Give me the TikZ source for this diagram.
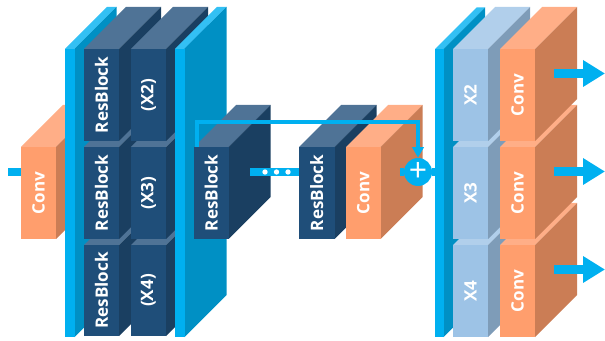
\documentclass[tikz,border=0pt]{standalone}
\usepackage{fontspec}
\setmainfont{Open Sans}
\usetikzlibrary{arrows.meta}
\definecolor{navyF}{HTML}{1F4E79}\definecolor{navyT}{HTML}{4F7396}\definecolor{navyS}{HTML}{1A3F61}
\definecolor{orgF}{HTML}{FF9E6D}\definecolor{orgT}{HTML}{FFAE87}\definecolor{orgS}{HTML}{CB7D55}
\definecolor{skyF}{HTML}{00B0F0}\definecolor{skyT}{HTML}{33C0F4}\definecolor{skyS}{HTML}{0090C4}
\definecolor{lblF}{HTML}{9DC3E6}\definecolor{lblT}{HTML}{B1CFEB}\definecolor{lblS}{HTML}{7E9CB8}
\tikzset{
  facelabel/.style={anchor=north west,inner sep=0pt,outer sep=0pt,text=white,font=\fontsize{12.8}{15}\selectfont\bfseries},
  stub/.style={draw=skyF,line width=6pt},
  skipline/.style={draw=skyF,line width=2.6pt,-{Triangle[width=8.5pt,length=8pt]}},
  outarrow/.style={draw=skyF,line width=6.8pt,-{Triangle[width=19pt,length=16.5pt]}},
  plusnode/.style={circle,fill=skyF,minimum size=21pt,inner sep=0pt,text=white,font=\fontsize{24}{24}\selectfont},
  dotmark/.style={fill=white}
}
\newcommand{\blk}[8]{%
  \fill[#7T] (#2,#3) -- ++(#6,-#6) -- ++(#4,0) -- ++(-#6,#6) -- cycle;
  \fill[#7S] (#2,#3) ++(#4,0) -- ++(#6,-#6) -- ++(0,#5) -- ++(-#6,#6) -- cycle;
  \node[facelabel,fill=#7F,minimum width=#4*0.75pt,minimum height=#5*0.75pt] (#1) at (#2,#3) {\rotatebox{90}{#8}};
}
\begin{document}
\begin{tikzpicture}[x=0.75pt,y=-0.75pt]
\useasboundingbox (0,0) rectangle (605,341);
% input conv
\coordinate (inL) at (8,172);
\blk{convA}{21}{147}{35}{92}{42}{org}{Conv}
\draw[stub] (inL) -- (inL -| convA.west);
% first panel
\blk{panelA}{65}{49}{9.5}{288}{42}{sky}{}
% ResBlock column
\blk{resC}{84}{245}{35}{91}{42}{navy}{ResBlock}
\blk{resB}{84}{147}{35}{92}{42}{navy}{ResBlock}
\blk{resA}{84}{49}{35}{92}{42}{navy}{ResBlock}
% repeat column
\blk{repC}{131}{245}{35}{91}{42}{navy}{(X4)}
\blk{repB}{131}{147}{35}{92}{42}{navy}{(X3)}
\blk{repA}{131}{49}{35}{92}{42}{navy}{(X2)}
% second panel
\blk{panelB}{175}{49}{9.5}{288}{42}{sky}{}
% middle
\blk{resD}{194}{147}{34.5}{92}{42}{navy}{ResBlock}
\blk{resE}{299}{147}{35.5}{92}{42}{navy}{ResBlock}
\blk{convB}{346}{147}{34.5}{92}{42}{org}{Conv}
\coordinate (dotsL) at (250,172);
\draw[stub] (dotsL) -- (dotsL -| resE.west);
\fill[dotmark] (265,172) circle (2pt) (276.5,172) circle (2pt) (288,172) circle (2pt);
% right panel and columns
\blk{panelC}{435}{49}{8.5}{288}{41.5}{sky}{}
\blk{lblC}{453}{245}{35}{92}{42}{lbl}{X4}
\blk{lblB}{453}{147}{35}{92}{42}{lbl}{X3}
\blk{lblA}{453}{49}{35}{92}{42}{lbl}{X2}
\blk{convE}{500}{245}{35}{92}{42}{org}{Conv}
\blk{convD}{500}{147}{35}{92}{42}{org}{Conv}
\blk{convC}{500}{49}{35}{92}{42}{org}{Conv}
% add node and skip
\node[plusnode] (plus) at (418,172) {+};
\coordinate (plusL) at (400,172);
\draw[stub] (plusL) -- (plus.west);
\draw[stub] (plus.east) -- (plus.east -| panelC.west);
\coordinate (skipS) at (197,147);
\coordinate (skipT) at (197,122);
\draw[skipline] (skipS) -- (skipT) -| (plus.north);
% outputs
\coordinate (outA) at (554,73.5);\coordinate (outAe) at (605,73.5);
\coordinate (outB) at (554,171.5);\coordinate (outBe) at (605,171.5);
\coordinate (outC) at (554,269.5);\coordinate (outCe) at (605,269.5);
\draw[outarrow] (outA) -- (outAe);
\draw[outarrow] (outB) -- (outBe);
\draw[outarrow] (outC) -- (outCe);
\end{tikzpicture}
\end{document}
